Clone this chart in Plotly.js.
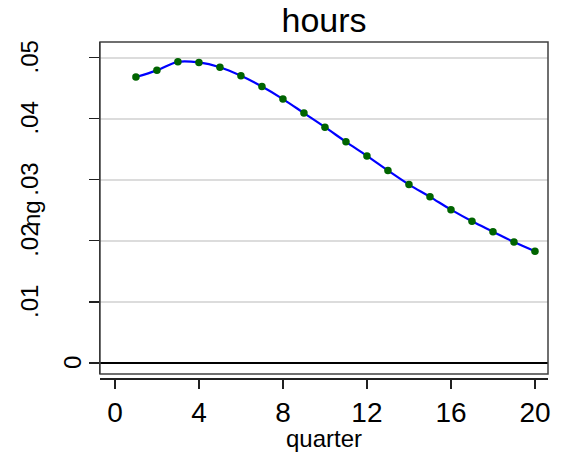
<!DOCTYPE html>
<html>
<head>
<meta charset="utf-8">
<script src="https://cdn.plot.ly/plotly-3.0.1.min.js"></script>
<style>html,body{margin:0;padding:0;background:#fff;}#chart{width:570px;height:452px;}</style>
</head>
<body>
<div id="chart"></div>
<script>
// Data
var quarter = [1,2,3,4,5,6,7,8,9,10,11,12,13,14,15,16,17,18,19,20];
var ng = [0.0468,0.0479,0.0493,0.0492,0.0484,0.0470,0.04525,0.0432,0.0409,0.0386,
          0.0362,0.0339,0.0315,0.0292,0.0272,0.0251,0.0232,0.0215,0.0198,0.0183];
var xTickVals = [0,4,8,12,16,20];
var yTickVals = [0,0.01,0.02,0.03,0.04,0.05];
var yTickText = ["0",".01",".02",".03",".04",".05"];
var titleText = "hours";
var xTitle = "quarter";
var yTitle = "ng";

var FONT = "Liberation Sans, Arial, Helvetica, sans-serif";
var yDomLow = 4/336;

var traces = [
  {x: quarter, y: ng, type: "scatter", mode: "lines",
   line: {color: "#0000ff", width: 2.2, shape: "spline", smoothing: 1},
   hoverinfo: "skip", showlegend: false},
  {x: quarter, y: ng, type: "scatter", mode: "markers",
   marker: {color: "#006400", size: 7.5}, showlegend: false}
];

var annotations = yTickVals.map(function(v, i){
  return {xref: "paper", yref: "y", x: 0, y: v, text: yTickText[i],
    textangle: -90, showarrow: false, xanchor: "center", yanchor: "middle",
    xshift: (yTickText[i] === "0") ? -28 : -70,
    font: {family: FONT, size: 24, color: "#000"}};
});
annotations.push({xref: "paper", yref: "paper", x: 0, y: 0.5, text: yTitle,
  textangle: -90, showarrow: false, xanchor: "center", yanchor: "middle",
  xshift: -69, yshift: -4, font: {family: FONT, size: 24, color: "#000"}});

var layout = {
  width: 570, height: 452,
  margin: {l: 100, r: 22, t: 42, b: 74, pad: 0},
  paper_bgcolor: "#fff", plot_bgcolor: "#fff",
  font: {family: FONT, color: "#000"},
  title: {text: titleText, font: {family: FONT, size: 34, color: "#000"},
          x: 0.5, xref: "paper", xanchor: "center", y: 1 - 20/452, yref: "container", yanchor: "middle"},
  xaxis: {range: [-0.71, 20.62], tickvals: xTickVals, ticktext: xTickVals.map(String),
          showgrid: false, zeroline: false, anchor: "free", position: 0,
          showline: true, linecolor: "#202020", linewidth: 1.5,
          ticks: "outside", ticklen: 9, tickwidth: 1.3, tickcolor: "#202020",
          tickfont: {family: FONT, size: 28, color: "#000"},
          title: {text: xTitle, font: {family: FONT, size: 24, color: "#000"}, standoff: 2}},
  yaxis: {domain: [yDomLow, 1], range: [-0.0018, 0.05254], tickvals: yTickVals,
          showticklabels: false, showgrid: true, gridcolor: "#dcdcdc", gridwidth: 2,
          zeroline: true, zerolinecolor: "#000", zerolinewidth: 2,
          showline: true, linecolor: "#202020", linewidth: 1.5,
          ticks: "outside", ticklen: 10, tickwidth: 1.3, tickcolor: "#202020"},
  shapes: [{type: "rect", xref: "paper", yref: "paper", x0: 0, x1: 1, y0: yDomLow, y1: 1,
            line: {color: "#404040", width: 1.5}, fillcolor: "rgba(0,0,0,0)", layer: "above"}],
  annotations: annotations
};

Plotly.newPlot("chart", traces, layout, {staticPlot: true, displayModeBar: false});
</script>
</body>
</html>
